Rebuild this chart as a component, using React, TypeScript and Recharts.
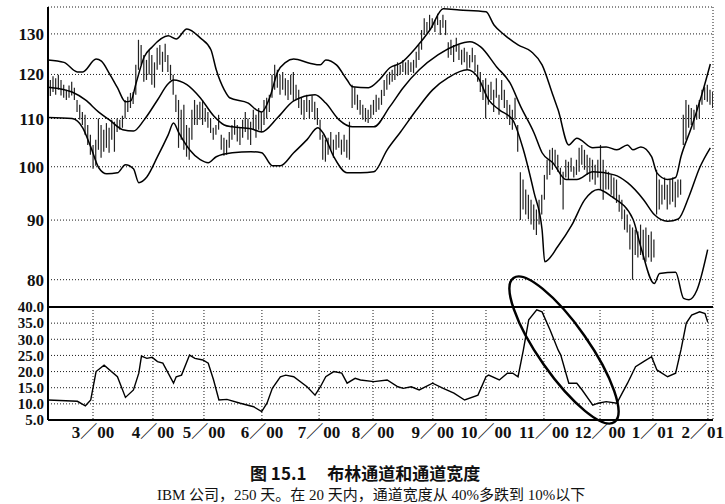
import React from 'react';
import { ComposedChart, Bar, Line, XAxis, YAxis, CartesianGrid } from 'recharts';

// ---- data ----
const monthTickDays = [16.85, 39.3, 58.4, 80.1, 101.5, 121.7, 144.1, 164.0, 185.7, 206.7, 226.5, 247.1];
const monthLabels = ['3／00', '4／00', '5／00', '6／00', '7／00', '8／00', '9／00', '10／00', '11／00', '12／00', '1／01', '2／01'];
const priceTicks = [80, 90, 100, 110, 120, 130];
const widthTicks = [5, 10, 15, 20, 25, 30, 35, 40];

const highs = [
  117.2, 118.7, 119.6, 119.1, 119.9, 118.7, 117.6, 116.4, 117.4, 118.3,
  116.9, 114.1, 113.0, 111.4, 110.8, 108.6, 106.5, 104.4, 105.5, 110.0,
  108.6, 107.6, 109.0, 108.0, 109.7, 109.3, 110.0, 109.7, 110.6, 114.1,
  114.8, 115.7, 115.9, 122.3, 128.5, 127.2, 124.7, 123.5, 126.0, 124.7,
  122.9, 126.5, 127.2, 125.5, 127.5, 124.7, 122.3, 119.9, 115.3, 114.1,
  111.9, 113.0, 108.6, 108.0, 111.9, 114.1, 113.0, 113.7, 114.1, 112.3,
  111.4, 110.0, 108.0, 108.6, 110.8, 106.5, 105.9, 105.5, 107.1, 108.6,
  109.7, 108.6, 108.0, 109.7, 111.4, 110.0, 109.3, 111.9, 110.8, 112.3,
  111.4, 114.1, 114.6, 115.3, 119.9, 122.3, 121.1, 119.9, 120.6, 119.1,
  118.7, 119.9, 120.6, 117.6, 116.4, 114.6, 114.1, 115.3, 114.1, 115.1,
  113.7, 112.3, 109.7, 106.5, 105.5, 105.9, 107.1, 105.5, 106.5, 107.1,
  105.5, 106.5, 105.5, 109.3, 117.6, 117.0, 115.3, 114.1, 113.0, 112.3,
  111.9, 113.0, 114.1, 115.3, 114.6, 116.4, 118.7, 119.9, 120.6, 121.1,
  122.3, 122.9, 122.3, 123.5, 122.9, 123.5, 122.9, 123.5, 125.5, 127.2,
  131.0, 134.1, 133.1, 135.0, 134.1, 133.6, 135.3, 133.6, 135.0, 133.6,
  127.9, 128.5, 127.2, 129.0, 127.2, 126.0, 126.5, 125.5, 124.7, 126.5,
  124.7, 122.3, 120.6, 118.7, 119.1, 117.6, 118.3, 116.4, 119.1, 115.3,
  118.7, 116.4, 114.1, 113.0, 111.9, 114.6, 108.6, 98.9, 97.5, 95.6,
  94.6, 93.7, 92.8, 91.9, 93.7, 94.6, 98.4, 101.4, 103.4, 103.8,
  103.4, 102.4, 99.8, 99.0, 101.4, 101.0, 101.8, 100.0, 101.4, 103.8,
  104.4, 103.4, 102.4, 101.8, 101.4, 100.4, 101.4, 104.4, 101.4, 99.4,
  99.0, 98.4, 97.9, 97.5, 94.6, 93.7, 91.9, 91.0, 89.2, 88.7,
  88.3, 88.0, 89.2, 88.3, 88.7, 87.4, 88.0, 86.6, 99.4, 97.5,
  96.5, 97.9, 96.5, 97.5, 97.9, 97.1, 97.5, 97.5, 110.8, 114.1,
  113.0, 112.3, 111.9, 113.0, 114.1, 116.4, 117.0, 117.6, 116.4, 115.9,
];

const lows = [
  113.4, 115.0, 115.9, 115.3, 116.4, 115.1, 114.6, 114.1, 114.6, 115.1,
  114.1, 111.4, 109.7, 108.6, 106.5, 104.4, 102.4, 99.6, 100.2, 103.4,
  101.8, 103.0, 103.8, 102.8, 105.5, 103.0, 107.1, 107.6, 108.0, 110.0,
  111.4, 112.3, 113.2, 115.3, 121.1, 122.3, 118.3, 118.7, 119.9, 117.6,
  116.9, 121.1, 122.3, 120.6, 123.0, 120.6, 118.7, 115.3, 111.4, 103.8,
  105.5, 103.4, 102.0, 101.4, 105.5, 108.6, 108.6, 109.7, 108.6, 109.3,
  108.0, 106.9, 105.5, 106.5, 107.6, 103.4, 102.2, 102.4, 103.8, 105.5,
  106.5, 105.1, 104.4, 105.9, 107.1, 105.5, 104.4, 107.6, 105.9, 107.6,
  107.1, 108.6, 110.0, 111.4, 114.6, 116.4, 116.9, 115.3, 116.4, 115.1,
  114.1, 115.3, 113.9, 114.1, 112.3, 110.8, 109.7, 111.4, 110.0, 111.4,
  109.7, 108.6, 105.5, 101.4, 101.0, 102.4, 103.4, 101.8, 103.4, 103.8,
  102.4, 103.0, 101.8, 101.4, 112.3, 113.0, 111.9, 110.8, 109.7, 109.3,
  109.0, 110.0, 110.8, 111.4, 111.9, 113.0, 115.0, 116.4, 117.6, 118.3,
  118.7, 119.6, 119.9, 120.6, 120.0, 119.9, 120.6, 120.3, 121.6, 123.5,
  126.0, 129.7, 130.3, 131.0, 131.6, 130.5, 132.3, 129.7, 131.6, 129.7,
  124.0, 124.7, 123.0, 125.5, 123.5, 122.3, 122.9, 121.1, 121.6, 122.9,
  120.6, 118.3, 115.9, 114.1, 110.0, 113.0, 114.1, 111.4, 114.6, 110.8,
  114.1, 112.3, 110.0, 108.6, 107.6, 109.7, 103.0, 90.0, 91.9, 91.0,
  90.2, 89.2, 88.3, 87.4, 89.2, 91.0, 93.7, 97.5, 98.4, 99.4,
  100.4, 99.0, 96.5, 91.9, 97.9, 97.5, 99.0, 97.9, 98.4, 99.0,
  100.4, 99.4, 98.4, 97.1, 97.5, 96.5, 97.9, 95.6, 93.7, 95.6,
  95.6, 94.6, 94.1, 93.1, 91.5, 90.2, 88.3, 87.8, 84.9, 80.0,
  84.0, 83.6, 84.0, 83.2, 82.9, 83.6, 82.9, 83.6, 91.0, 91.9,
  92.8, 93.7, 91.9, 92.8, 93.3, 92.3, 94.1, 94.6, 104.4, 105.5,
  108.0, 108.6, 107.6, 109.7, 110.0, 113.0, 114.1, 113.7, 113.0, 112.3,
];

const upperDays = [0, 6, 11, 13, 18, 20, 23, 26, 29, 31, 33, 36, 39, 45, 48, 52, 57, 61, 63, 66, 68, 75, 78, 80, 83, 86, 89, 92, 98, 102, 104, 108, 112, 114, 120, 124, 128, 132, 138, 143, 148, 154, 164, 167, 171, 176, 181, 185, 189, 191, 195, 198, 204, 209, 213, 217, 219, 222, 226, 228, 232, 235, 237, 241, 245, 248];
const upperVals = [123.5, 122.9, 120.6, 120.6, 123.7, 123.2, 120.2, 116.9, 113.7, 113.9, 118.0, 124.2, 126.7, 129.5, 128.7, 131.3, 129.0, 126.0, 121.1, 116.4, 114.6, 113.4, 111.9, 111.4, 114.6, 120.6, 122.9, 123.7, 122.7, 122.3, 123.5, 122.3, 118.7, 117.1, 116.9, 118.7, 121.6, 122.7, 126.7, 131.0, 136.6, 136.3, 135.8, 132.3, 129.7, 127.2, 125.5, 122.3, 115.3, 111.9, 104.4, 105.8, 103.8, 104.0, 103.4, 104.4, 103.4, 104.0, 102.0, 98.8, 97.5, 97.9, 102.0, 108.2, 115.7, 122.5];

const middleDays = [0, 4, 9, 14, 19, 23, 28, 32, 36, 41, 45, 47, 52, 57, 62, 66, 69, 76, 80, 86, 92, 100, 104, 109, 114, 122, 128, 133, 139, 146, 153, 158, 162, 168, 173, 177, 182, 185, 189, 194, 198, 204, 212, 217, 223, 227, 232, 236, 240, 244, 248];
const middleVals = [117.0, 116.7, 115.9, 114.1, 111.4, 109.7, 107.6, 107.3, 109.7, 114.1, 117.8, 118.7, 117.6, 114.6, 110.6, 108.6, 108.2, 107.8, 107.1, 110.2, 113.9, 115.3, 113.4, 109.7, 108.2, 108.2, 112.6, 116.9, 121.1, 124.7, 127.2, 128.0, 126.7, 121.8, 118.0, 112.6, 106.9, 102.8, 100.8, 97.5, 97.5, 99.0, 98.4, 96.9, 93.7, 91.0, 89.8, 90.2, 94.3, 99.8, 103.8];

const lowerDays = [0, 9, 13, 16, 19, 22, 26, 29, 32, 34, 37, 41, 45, 47, 49, 53, 57, 60, 63, 69, 76, 80, 84, 87, 92, 97, 101, 103, 107, 112, 117, 122, 127, 132, 138, 144, 150, 157, 161, 165, 169, 174, 178, 182, 185, 186, 191, 196, 201, 206, 211, 219, 222, 227, 229, 235, 238, 240, 243, 247];
const lowerVals = [110.2, 110.0, 108.0, 104.0, 99.8, 98.6, 98.8, 100.4, 99.6, 96.9, 98.0, 102.0, 106.5, 109.0, 106.9, 103.4, 101.4, 100.8, 102.0, 102.8, 103.0, 102.8, 100.2, 100.2, 102.8, 105.5, 108.0, 106.9, 102.0, 98.8, 98.8, 99.0, 103.4, 107.1, 111.9, 116.4, 119.3, 121.1, 119.3, 114.1, 111.9, 109.7, 103.4, 95.0, 88.3, 82.9, 85.5, 89.0, 93.7, 95.6, 94.3, 90.2, 85.3, 79.4, 81.0, 81.2, 77.1, 76.9, 78.4, 84.9];

const widthDays = [0, 11, 14, 16, 18, 21, 26, 29, 32, 34, 35, 37, 39, 41, 43, 47, 48, 50, 53, 55, 58, 60, 62, 64, 67, 72, 77, 80, 82, 84, 87, 89, 92, 97, 100, 102, 104, 107, 110, 112, 115, 117, 122, 127, 131, 133, 136, 139, 144, 148, 152, 156, 161, 164, 165, 169, 172, 174, 176, 178, 180, 183, 185, 188, 191, 192, 195, 198, 200, 204, 206, 209, 213, 215, 217, 220, 223, 226, 228, 232, 235, 237, 239, 241, 244, 246, 247];
const widthVals = [11.2, 10.8, 9.4, 11.2, 20.0, 22.0, 18.4, 12.0, 14.3, 19.5, 24.8, 24.1, 24.4, 23.1, 22.6, 16.4, 18.4, 18.9, 25.1, 24.1, 23.6, 22.6, 17.4, 11.2, 11.4, 10.2, 9.1, 7.6, 10.2, 14.8, 18.4, 18.9, 18.4, 15.3, 12.7, 15.3, 18.4, 20.0, 19.5, 16.4, 17.9, 17.4, 16.9, 17.4, 15.3, 14.8, 15.3, 14.3, 16.4, 14.8, 13.3, 11.2, 12.7, 18.4, 18.9, 17.4, 19.5, 19.5, 18.4, 26.7, 36.0, 39.1, 38.5, 32.9, 26.7, 25.1, 16.4, 16.4, 14.3, 9.6, 10.2, 10.7, 10.2, 13.3, 16.4, 21.5, 23.1, 24.6, 20.5, 18.4, 19.5, 26.7, 35.0, 37.5, 38.5, 38.0, 35.4];

const titleText = '图 15.1\u3000 布林通道和通道宽度';
const noteText = 'IBM 公司，250 天。在 20 天内，通道宽度从 40%多跌到 10%以下';

// ---- build tables ----
type Row = { day: number; range: [number, number]; upper?: number; middle?: number; lower?: number };
const priceRows: Row[] = highs.map((h, i) => ({ day: i, range: [lows[i], h] as [number, number] }));
upperDays.forEach((d, k) => { priceRows[d].upper = upperVals[k]; });
middleDays.forEach((d, k) => { priceRows[d].middle = middleVals[k]; });
lowerDays.forEach((d, k) => { priceRows[d].lower = lowerVals[k]; });
const widthRows = widthDays.map((d, k) => ({ day: d, bw: widthVals[k] }));

const FONT = "'Liberation Serif', 'Noto Sans CJK SC', serif";
const tickStyle = { fontSize: 17, fill: '#111', fontFamily: FONT, fontWeight: 700 };
const smallTickStyle = { fontSize: 15, fill: '#111', fontFamily: FONT, fontWeight: 700 };
const axisLine = { stroke: '#000', strokeWidth: 2 };

const MonthTick = (props: any) => {
  const { x, y, payload } = props;
  const i = monthTickDays.indexOf(payload.value);
  const label = i >= 0 ? monthLabels[i] : '';
  const last = i === monthTickDays.length - 1;
  return (
    <text x={last ? 724 : x} y={y} dy="0.71em" textAnchor={last ? 'end' : 'middle'}
      fontSize={17} fontWeight={700} fill="#111" fontFamily={FONT}>{label}</text>
  );
};

const HiLoShape = (props: any) => {
  const { x, y, width, height } = props;
  if (x == null || y == null || isNaN(y)) return null;
  const cx = x + width / 2;
  const y1 = Math.min(y, y + height);
  const y2 = Math.max(y, y + height);
  return <line x1={cx} x2={cx} y1={y1} y2={y2} stroke="#222" strokeWidth={1.2} />;
};

export default function App() {
  return (
    <div style={{ position: 'absolute', left: 0, top: 0, width: 725, height: 504, background: '#fff', overflow: 'hidden' }}>
      <div style={{ position: 'absolute', left: 0, top: 0 }}>
        <ComposedChart width={725} height={320} data={priceRows} margin={{ top: 7, right: 12, bottom: 0, left: 0 }}>
          <CartesianGrid stroke="#000" strokeDasharray="1 2" strokeWidth={0.9} />
          <XAxis dataKey="day" type="number" domain={[0, 249]} ticks={monthTickDays} tick={false}
            tickSize={4} height={13} axisLine={axisLine} tickLine={axisLine} allowDataOverflow interval={0} />
          <XAxis xAxisId="top" orientation="top" dataKey="day" type="number" domain={[0, 249]} ticks={monthTickDays}
            tick={false} mirror tickSize={4} height={0} axisLine={axisLine} tickLine={axisLine} allowDataOverflow interval={0} />
          <YAxis scale="log" domain={[75.8, 137.1]} ticks={priceTicks} allowDataOverflow width={48}
            tickSize={0} tickMargin={4} axisLine={axisLine} tick={tickStyle} interval={0} />
          <YAxis yAxisId="r" orientation="right" scale="log" domain={[75.8, 137.1]} ticks={priceTicks} allowDataOverflow
            width={0} mirror tick={false} tickSize={5} axisLine={axisLine} tickLine={axisLine} interval={0} />
          <Bar dataKey="range" barSize={2} shape={HiLoShape} isAnimationActive={false} />
          <Line dataKey="upper" type="monotone" stroke="#000" strokeWidth={1.5} dot={false} connectNulls isAnimationActive={false} />
          <Line dataKey="middle" type="monotone" stroke="#000" strokeWidth={1.5} dot={false} connectNulls isAnimationActive={false} />
          <Line dataKey="lower" type="monotone" stroke="#000" strokeWidth={1.5} dot={false} connectNulls isAnimationActive={false} />
        </ComposedChart>
      </div>
      <div style={{ position: 'absolute', left: 0, top: 297 }}>
        <ComposedChart width={725} height={153} data={widthRows} margin={{ top: 10, right: 12, bottom: 0, left: 0 }}>
          <CartesianGrid stroke="#000" strokeDasharray="1 2" strokeWidth={0.9} />
          <XAxis dataKey="day" type="number" domain={[0, 249]} ticks={monthTickDays}
            height={30} tickSize={0} tickMargin={6} axisLine={axisLine} tick={<MonthTick />} allowDataOverflow interval={0} />
          <XAxis xAxisId="top" orientation="top" dataKey="day" type="number" domain={[0, 249]} ticks={monthTickDays}
            tick={false} tickSize={4} height={0} axisLine={axisLine} tickLine={axisLine} allowDataOverflow interval={0} />
          <YAxis domain={[5, 40]} ticks={widthTicks} tickFormatter={(v: number) => v.toFixed(1)} allowDataOverflow width={48}
            tickSize={0} tickMargin={4} axisLine={axisLine} tick={smallTickStyle} interval={0} />
          <YAxis yAxisId="r" orientation="right" domain={[5, 40]} ticks={widthTicks} allowDataOverflow
            width={0} mirror tick={false} tickSize={5} axisLine={axisLine} tickLine={axisLine} interval={0} />
          <Line dataKey="bw" type="linear" stroke="#000" strokeWidth={1.4} dot={false} isAnimationActive={false} />
        </ComposedChart>
      </div>
      <svg width={725} height={504} style={{ position: 'absolute', left: 0, top: 0, pointerEvents: 'none' }}>
        <ellipse cx={564} cy={350} rx={88} ry={25} fill="none" stroke="#000" strokeWidth={2.5}
          transform="rotate(55 564 350)" />
      </svg>
      <div style={{ position: 'absolute', left: 250, top: 463, fontFamily: "'Noto Sans CJK SC', sans-serif", fontWeight: 700,
        fontSize: 17, lineHeight: '20px', whiteSpace: 'nowrap', color: '#111' }}>{titleText}</div>
      <div style={{ position: 'absolute', left: 157, top: 486, fontFamily: "'Liberation Serif', 'Noto Sans CJK SC', serif",
        fontSize: 15, lineHeight: '18px', whiteSpace: 'nowrap', color: '#111' }}>{noteText}</div>
    </div>
  );
}
